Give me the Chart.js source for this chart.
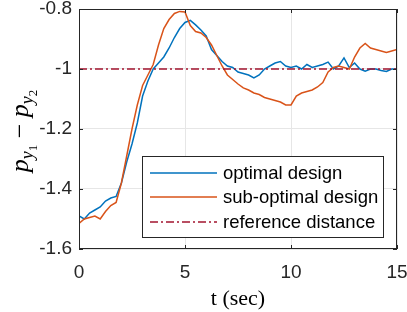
<!DOCTYPE html>
<html>
<head>
<meta charset="utf-8">
<script src="https://cdn.jsdelivr.net/npm/chart.js@4.4.1/dist/chart.umd.min.js"></script>
<style>
    html, body { margin: 0; padding: 0; background: #fff; }
    #wrap { width: 407px; height: 312px; }
</style>
</head>
<body>
<div id="wrap"><canvas id="chart" width="407" height="312"></canvas></div>
<script>
const timeSec = [0, 0.25, 0.5, 0.75, 1, 1.25, 1.5, 1.75, 2, 2.25, 2.5, 2.75, 3, 3.25, 3.5, 3.75,
    4, 4.25, 4.5, 4.75, 5, 5.25, 5.5, 5.75, 6, 6.25, 6.5, 6.75, 7, 7.25, 7.5, 7.75,
    8, 8.25, 8.5, 8.75, 9, 9.25, 9.5, 9.75, 10, 10.25, 10.5, 10.75, 11, 11.25, 11.5, 11.75,
    12, 12.25, 12.5, 12.75, 13, 13.25, 13.5, 13.75, 14, 14.25, 14.5, 14.75, 15];

const optimal = [-1.49, -1.50, -1.48, -1.47, -1.46, -1.44, -1.43, -1.425, -1.38, -1.31, -1.25, -1.18,
    -1.09, -1.04, -1.00, -0.98, -0.96, -0.93, -0.895, -0.865, -0.845, -0.838, -0.853, -0.87,
    -0.89, -0.935, -0.955, -0.975, -0.99, -0.995, -1.01, -1.015, -1.02, -1.03, -1.02, -1.0,
    -0.99, -0.98, -0.975, -0.99, -0.995, -0.99, -1.0, -0.985, -0.995, -0.99, -0.985, -0.977,
    -1.0, -0.99, -0.963, -0.995, -0.98, -1.0, -1.007, -1.0, -1.0, -1.005, -1.008, -1.0, -1.0];

const subOptimal = [-1.515, -1.50, -1.495, -1.49, -1.50, -1.475, -1.455, -1.445, -1.38, -1.29, -1.20, -1.12,
    -1.055, -1.02, -0.985, -0.92, -0.865, -0.835, -0.815, -0.808, -0.81, -0.855, -0.875, -0.88,
    -0.895, -0.92, -0.955, -0.99, -1.02, -1.035, -1.05, -1.063, -1.07, -1.08, -1.085, -1.095,
    -1.10, -1.105, -1.11, -1.12, -1.12, -1.09, -1.08, -1.075, -1.07, -1.06, -1.045, -1.01,
    -0.995, -0.99, -0.995, -1.0, -0.96, -0.93, -0.915, -0.93, -0.935, -0.94, -0.945, -0.94, -0.935];

const refTime = [0, 15];
const refDistance = [-1, -1];

const seriesLabels = ['optimal design', 'sub-optimal design', 'reference distance'];
const xTicks = [0, 5, 10, 15];
const yTicks = [-1.6, -1.4, -1.2, -1, -0.8];

const axisColor = '#262626';

function pairs(xs, ys) {
    return xs.map((x, i) => ({x: x, y: ys[i]}));
}

// MATLAB style box, inward ticks and legend
const boxPlugin = {
    id: 'box',
    afterDraw(chart) {
        const c = chart.ctx;
        const a = chart.chartArea;
        const sx = chart.scales.x, sy = chart.scales.y;
        c.save();
        c.strokeStyle = axisColor;
        c.lineWidth = 1;
        c.strokeRect(a.left + 0.5, a.top + 0.5, a.right - a.left - 1, a.bottom - a.top - 1);
        c.beginPath();
        xTicks.forEach(v => {
            const px = Math.round(sx.getPixelForValue(v)) + 0.5;
            c.moveTo(px, a.bottom); c.lineTo(px, a.bottom - 4);
            c.moveTo(px, a.top); c.lineTo(px, a.top + 4);
        });
        yTicks.forEach(v => {
            const py = Math.round(sy.getPixelForValue(v)) + 0.5;
            c.moveTo(a.left, py); c.lineTo(a.left + 4, py);
            c.moveTo(a.right, py); c.lineTo(a.right - 4, py);
        });
        c.stroke();

        // legend
        const lx = 142, ly = 156, lw = 241, lh = 81;
        c.fillStyle = '#fff';
        c.fillRect(lx, ly, lw, lh);
        c.strokeStyle = axisColor;
        c.strokeRect(lx + 0.5, ly + 0.5, lw, lh);
        const rows = [173, 197, 222];
        chart.data.datasets.forEach((ds, i) => {
            c.beginPath();
            c.strokeStyle = ds.borderColor;
            c.lineWidth = 1.5;
            c.setLineDash(ds.borderDash || []);
            c.moveTo(150, rows[i]); c.lineTo(217, rows[i]);
            c.stroke();
            c.setLineDash([]);
            c.fillStyle = '#000';
            c.font = '18.5px "Liberation Sans", Arial, sans-serif';
            c.textBaseline = 'middle';
            c.fillText(ds.label, 223, rows[i] + 1);
        });

        // y axis title: p_{y_1} - p_{y_2}
        c.translate(28, 131);
        c.rotate(-Math.PI / 2);
        c.fillStyle = '#000';
        c.textBaseline = 'alphabetic';
        const big = 'italic 26px "Liberation Serif", serif';
        const mid = 'italic 18px "Liberation Serif", serif';
        const small = '13px "Liberation Serif", serif';
        const parts = [
            [big, 'p', 0], [mid, 'y', 5], [small, '1', 9],
            ['26px "Liberation Serif", serif', ' \u2212 ', 0],
            [big, 'p', 0], [mid, 'y', 5], [small, '2', 9]
        ];
        let total = 0;
        parts.forEach(p => { c.font = p[0]; total += c.measureText(p[1]).width; });
        let x = -total / 2;
        parts.forEach(p => {
            c.font = p[0];
            c.fillText(p[1], x, p[2]);
            x += c.measureText(p[1]).width;
        });
        c.restore();
    }
};

const ctx = document.getElementById('chart').getContext('2d');

new Chart(ctx, {
    type: 'line',
    data: {
        datasets: [{
            label: seriesLabels[0],
            data: pairs(timeSec, optimal),
            borderColor: '#0072BD',
            borderWidth: 1.5,
            pointRadius: 0,
            tension: 0,
            order: 2
        }, {
            label: seriesLabels[1],
            data: pairs(timeSec, subOptimal),
            borderColor: '#D95319',
            borderWidth: 1.5,
            pointRadius: 0,
            tension: 0,
            order: 1
        }, {
            label: seriesLabels[2],
            data: pairs(refTime, refDistance),
            borderColor: '#A2142F',
            borderWidth: 1.5,
            borderDash: [8, 3, 2, 3],
            pointRadius: 0,
            order: 0
        }]
    },
    options: {
        responsive: false,
        animation: false,
        layout: {
            padding: {left: 0, right: 10, top: 9, bottom: 0}
        },
        plugins: {
            legend: {display: false},
            tooltip: {enabled: false}
        },
        scales: {
            x: {
                type: 'linear',
                min: 0,
                max: 15,
                afterBuildTicks: axis => { axis.ticks = xTicks.map(v => ({value: v})); },
                afterFit: axis => {
                    axis.height = 63;
                    axis.paddingLeft = 0;
                    axis.paddingRight = 0;
                },
                grid: {color: '#e6e6e6', drawTicks: false},
                border: {display: false},
                ticks: {
                    color: axisColor,
                    padding: 12,
                    maxRotation: 0,
                    font: {family: '"Liberation Sans", Arial, sans-serif', size: 19}
                },
                title: {
                    display: true,
                    text: 't (sec)',
                    color: '#000',
                    padding: {top: 0, bottom: 0},
                    font: {family: '"Liberation Serif", serif', size: 22}
                }
            },
            y: {
                min: -1.6,
                max: -0.8,
                afterBuildTicks: axis => { axis.ticks = yTicks.map(v => ({value: v})); },
                afterFit: axis => {
                    axis.width = 79;
                    axis.paddingTop = 0;
                    axis.paddingBottom = 0;
                },
                grid: {color: '#e6e6e6', drawTicks: false},
                border: {display: false},
                ticks: {
                    color: axisColor,
                    padding: 7,
                    font: {family: '"Liberation Sans", Arial, sans-serif', size: 19},
                    callback: v => String(Number(v.toFixed(1)))
                }
            }
        }
    },
    plugins: [boxPlugin]
});
</script>
</body>
</html>
